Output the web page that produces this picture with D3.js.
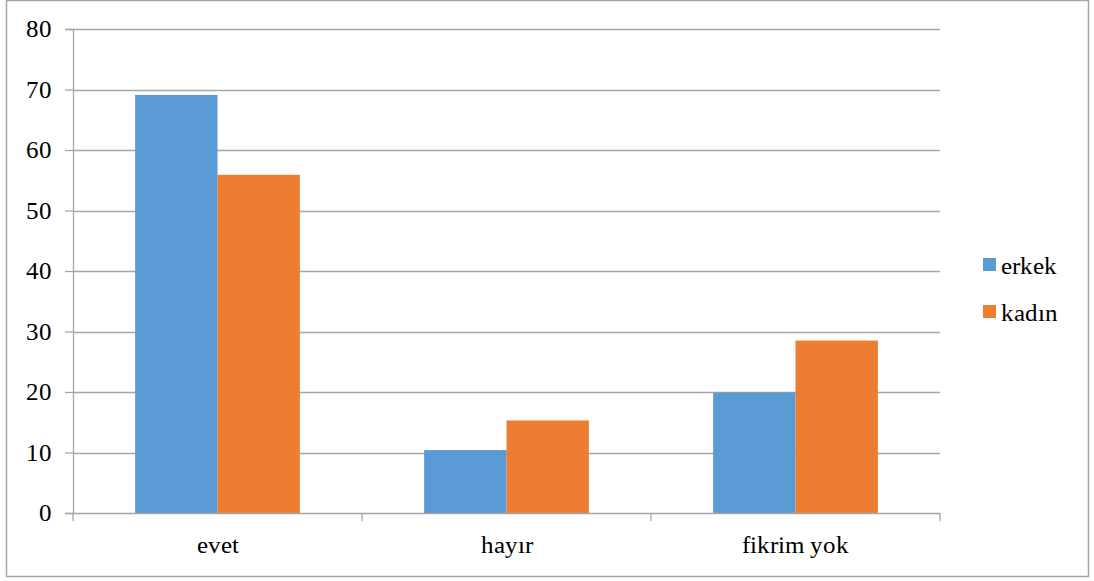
<!DOCTYPE html>
<html>
<head>
<meta charset="utf-8">
<script src="https://cdn.jsdelivr.net/npm/d3@7"></script>
<style>
  @font-face { font-family: "ChartSerif"; src: local("Liberation Serif"), local("LiberationSerif"), local("Times New Roman"); }
  .lbl-text { font-family: "ChartSerif", "Times New Roman", "Liberation Serif", Times, serif; }
</style>
</head>
<body style="margin:0; background:#fff">
<div id="chart"></div>
<script>
// chart data
const categories = ["evet", "hayır", "fikrim yok"];
const seriesNames = ["erkek", "kadın"];
const erkek = [69.1, 10.4, 19.9];
const kadin = [55.9, 15.3, 28.5];
const yTicks = [0, 10, 20, 30, 40, 50, 60, 70, 80];
const colors = ["#5B9BD5", "#ED7D31"];

const fam = "'Times New Roman', 'Liberation Serif', Times, serif";
const width = 1094, height = 581;
const margin = { left: 73, right: 154, top: 29, bottom: 68 };
const plotW = width - margin.left - margin.right;
const plotH = height - margin.top - margin.bottom;

const svg = d3.select("#chart")
  .append("svg")
  .attr("width", width)
  .attr("height", height)
  .attr("font-family", fam)
  .attr("font-size", "25px");

// outer chart border
svg.append("rect")
  .attr("x", 6.5)
  .attr("y", 0.5)
  .attr("width", 1082)
  .attr("height", 576)
  .attr("fill", "#fff")
  .attr("stroke", "#A6A6A6")
  .attr("stroke-width", 1.5);

const g = svg.append("g")
  .attr("transform", `translate(${margin.left},${margin.top})`);

const x = d3.scaleBand()
  .domain(categories)
  .range([0, plotW]);

const y = d3.scaleLinear()
  .domain([0, 80])
  .range([plotH, 0]);

// grid lines
g.selectAll(".grid")
  .data(yTicks.filter(d => d > 0))
  .enter()
  .append("line")
  .attr("x1", 0)
  .attr("x2", plotW)
  .attr("y1", d => Math.round(y(d)) + 0.5)
  .attr("y2", d => Math.round(y(d)) + 0.5)
  .attr("stroke", "#A6A6A6")
  .attr("stroke-width", 1.3);

// bars
const groupW = x.bandwidth() * 0.57;
const xs = d3.scaleBand()
  .domain(seriesNames)
  .range([0, groupW]);

const rows = categories.map((c, i) => ({ cat: c, values: [erkek[i], kadin[i]] }));

const groups = g.selectAll(".grp")
  .data(rows)
  .enter()
  .append("g")
  .attr("transform", d => `translate(${x(d.cat) + (x.bandwidth() - groupW) / 2},0)`);

groups.selectAll("rect")
  .data(d => d.values.map((v, i) => ({ name: seriesNames[i], v: v, i: i })))
  .enter()
  .append("rect")
  .attr("x", d => xs(d.name))
  .attr("width", xs.bandwidth())
  .attr("y", d => y(d.v))
  .attr("height", d => plotH - y(d.v))
  .attr("fill", d => colors[d.i]);

// y axis: ticks and lines only, labels drawn below
const yAxis = g.append("g")
  .call(d3.axisLeft(y).tickValues(yTicks).tickSize(8).tickFormat(""));
yAxis.select(".domain").attr("stroke", "#A6A6A6").attr("stroke-width", 1.3);
yAxis.selectAll(".tick line").attr("stroke", "#A6A6A6").attr("stroke-width", 1.3);

g.selectAll(".ylbl")
  .data(yTicks)
  .enter()
  .append("text")
  .attr("class", "lbl-text")
  .attr("x", -21)
  .attr("y", d => y(d) + 8)
  .attr("text-anchor", "end")
  .attr("font-family", fam)
  .attr("font-size", "25px")
  .attr("fill", "#000")
  .text(d => d);

// x axis with tick marks between categories
const xAxis = g.append("g").attr("transform", `translate(0,${plotH})`);
xAxis.append("line")
  .attr("x1", 0).attr("x2", plotW)
  .attr("y1", 0.5).attr("y2", 0.5)
  .attr("stroke", "#A6A6A6")
  .attr("stroke-width", 1.3);
const edges = categories.map(c => x(c)).concat([plotW]);
xAxis.selectAll(".sep")
  .data(edges)
  .enter()
  .append("line")
  .attr("x1", d => d).attr("x2", d => d)
  .attr("y1", 0).attr("y2", 8)
  .attr("stroke", "#A6A6A6")
  .attr("stroke-width", 1.3);
xAxis.selectAll(".lbl")
  .data(categories)
  .enter()
  .append("text")
  .attr("class", "lbl-text")
  .attr("x", d => x(d) + x.bandwidth() / 2)
  .attr("y", 40)
  .attr("text-anchor", "middle")
  .attr("font-family", fam)
  .attr("font-size", "25px")
  .attr("fill", "#000")
  .text(d => d);

// legend
const legend = svg.append("g").attr("transform", "translate(983,258)");
seriesNames.forEach((name, i) => {
  legend.append("rect")
    .attr("x", 0)
    .attr("y", i * 47)
    .attr("width", 13)
    .attr("height", 13)
    .attr("fill", colors[i]);
  legend.append("text")
    .attr("class", "lbl-text")
    .attr("x", 18)
    .attr("y", i * 47 + 16)
    .attr("font-family", fam)
    .attr("font-size", "25px")
    .attr("fill", "#000")
    .text(name);
});
</script>
</body>
</html>
